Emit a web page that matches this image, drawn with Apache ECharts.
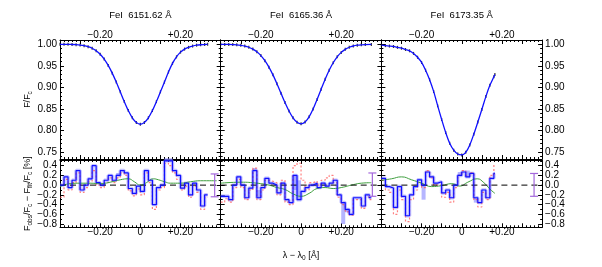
<!DOCTYPE html>
<html><head><meta charset="utf-8">
<script src="https://cdn.jsdelivr.net/npm/echarts@6/dist/echarts.min.js"></script>
<style>html,body{margin:0;padding:0;background:#fff}#c{width:602px;height:267px}</style>
</head><body><div id="c"></div><script>
// ---------------- data ----------------
const lineTitles = ['FeI  6151.62 Å', 'FeI  6165.36 Å', 'FeI  6173.35 Å'];

// upper panels: normalised line profiles F/Fc
const prof1X = [-0.40,-0.38,-0.36,-0.34,-0.32,-0.30,-0.28,-0.26,-0.24,-0.22,-0.20,-0.18,-0.16,-0.14,-0.12,-0.10,-0.08,-0.06,-0.04,-0.02,0.00,0.02,0.04,0.06,0.08,0.10,0.12,0.14,0.16,0.18,0.20,0.22,0.24,0.26,0.28,0.30,0.32,0.335];
const prof1Y = [1.000,1.000,1.000,0.9996,0.9991,0.9983,0.9969,0.9945,0.9908,0.9851,0.977,0.9658,0.9512,0.9333,0.9126,0.890,0.8674,0.8466,0.8298,0.8189,0.815,0.8189,0.8298,0.8466,0.8674,0.890,0.9126,0.936,0.956,0.971,0.982,0.989,0.993,0.996,0.998,0.999,0.9995,1.000];
const prof2X = [-0.40,-0.38,-0.36,-0.34,-0.32,-0.30,-0.28,-0.26,-0.24,-0.22,-0.20,-0.18,-0.16,-0.14,-0.12,-0.10,-0.08,-0.06,-0.04,-0.02,0.00,0.02,0.04,0.06,0.08,0.10,0.12,0.14,0.16,0.18,0.20,0.22,0.24,0.26,0.28,0.30,0.32,0.35];
const prof2Y = [1.000,0.9998,0.9997,0.9993,0.9988,0.9977,0.996,0.9932,0.9889,0.9826,0.9739,0.962,0.9472,0.9293,0.9088,0.887,0.8653,0.8456,0.8298,0.8195,0.816,0.8202,0.8321,0.8502,0.8724,0.8961,0.9192,0.940,0.9574,0.9711,0.9813,0.9884,0.9932,0.9961,0.9979,0.9989,0.9995,0.9997];
const prof3X = [-0.40,-0.38,-0.36,-0.34,-0.32,-0.30,-0.28,-0.26,-0.24,-0.22,-0.20,-0.18,-0.16,-0.14,-0.12,-0.10,-0.08,-0.06,-0.04,-0.02,0.00,0.02,0.04,0.06,0.08,0.10,0.12,0.14,0.16,0.165];
const prof3Y = [0.998,0.997,0.996,0.995,0.993,0.991,0.988,0.985,0.979,0.970,0.958,0.940,0.918,0.891,0.858,0.826,0.796,0.771,0.755,0.746,0.744,0.750,0.767,0.792,0.820,0.849,0.879,0.905,0.925,0.930];

// lower panels: residuals [%], step bins start at resX, last bin ends at resEnd
const res1X = [-0.40,-0.38,-0.36,-0.34,-0.32,-0.30,-0.28,-0.26,-0.24,-0.22,-0.20,-0.18,-0.16,-0.14,-0.12,-0.10,-0.08,-0.06,-0.04,-0.02,0.00,0.02,0.04,0.06,0.08,0.10,0.12,0.14,0.16,0.18,0.20,0.22,0.24,0.26,0.28,0.30,0.32];
const res1End = 0.335;
const res1Blue  = [0.0,0.17,-0.05,0.1,0.3,-0.1,0.0,0.13,0.4,0.05,0.0,0.1,0.2,0.1,0.2,0.3,0.25,-0.07,-0.17,-0.02,-0.13,0.3,0.1,-0.4,-0.05,0.0,0.5,0.5,0.3,0.2,-0.06,0.04,-0.2,0.04,-0.1,-0.43,-0.2];
const res1Light = [0.0,0.17,-0.05,0.1,0.3,-0.1,0.0,0.13,0.4,0.05,0.0,0.1,0.2,0.1,0.25,0.3,0.25,-0.07,-0.17,-0.02,-0.13,0.3,0.1,-0.4,-0.05,0.0,0.55,0.55,0.3,0.2,-0.06,0.04,-0.2,0.04,-0.1,-0.43,-0.2];
const res1Red   = [-0.25,0.12,-0.1,0.05,0.25,-0.15,-0.05,0.08,0.3,0.0,-0.05,0.05,0.15,0.05,0.15,0.25,0.2,-0.12,-0.22,-0.08,-0.2,0.25,0.05,-0.5,-0.1,-0.05,0.45,0.4,0.25,0.12,-0.1,-0.02,-0.25,-0.02,-0.15,-0.5,-0.25];
const fit1X = [-0.40,-0.35,-0.30,-0.25,-0.20,-0.15,-0.10,-0.06,-0.03,0.0,0.03,0.065,0.09,0.12,0.15,0.20,0.25,0.30,0.38];
const fit1Y = [-0.03,0.03,0.04,0.04,0.03,0.06,0.11,0.13,0.07,0.0,0.05,0.13,0.11,0.07,0.04,0.04,0.07,0.09,0.09];

const res2X = [-0.40,-0.38,-0.36,-0.34,-0.32,-0.30,-0.28,-0.26,-0.24,-0.22,-0.20,-0.18,-0.16,-0.14,-0.12,-0.10,-0.08,-0.06,-0.04,-0.02,0.00,0.02,0.04,0.06,0.08,0.10,0.12,0.14,0.16,0.18,0.20,0.22,0.24,0.26,0.28,0.30,0.32,0.34];
const res2End = 0.35;
const res2Blue  = [-0.23,-0.23,-0.3,0.0,0.17,0.0,-0.26,-0.06,0.3,-0.26,-0.05,0.14,0.04,0.0,-0.16,0.04,-0.3,-0.36,0.2,-0.3,-0.13,-0.05,0.0,0.04,-0.05,0.04,-0.02,0.04,0.1,-0.2,-0.36,-0.5,-0.6,-0.26,-0.26,-0.43,-0.2,-0.26];
const res2Light = [-0.2,-0.23,-0.3,0.0,0.17,0.0,-0.26,-0.06,0.35,-0.1,-0.05,0.14,0.04,0.0,-0.16,0.04,-0.3,-0.36,-0.1,0.1,-0.13,-0.05,0.0,0.04,-0.05,0.04,-0.02,0.04,0.1,-0.2,-0.8,-0.56,-0.6,-0.26,-0.26,-0.43,-0.2,-0.26];
const res2Red   = [-0.35,-0.28,-0.35,-0.05,0.12,-0.05,-0.3,-0.1,0.35,-0.3,-0.1,0.1,0.08,0.05,-0.2,0.1,-0.35,-0.4,0.4,0.45,0.1,-0.1,0.05,0.08,0.0,0.1,0.15,0.2,0.05,-0.25,-0.4,-0.55,-0.62,-0.3,-0.3,-0.48,-0.25,-0.3];
const fit2X = [-0.40,-0.30,-0.22,-0.16,-0.12,-0.08,-0.04,0.0,0.04,0.08,0.12,0.16,0.20,0.26,0.30,0.35];
const fit2Y = [0.04,0.06,0.04,0.0,-0.05,-0.09,-0.18,-0.23,-0.17,-0.07,-0.05,-0.07,-0.05,0.01,0.04,0.05];

const res3X = [-0.40,-0.38,-0.36,-0.34,-0.32,-0.30,-0.28,-0.26,-0.24,-0.22,-0.20,-0.18,-0.16,-0.14,-0.12,-0.10,-0.08,-0.06,-0.04,-0.02,0.00,0.02,0.04,0.06,0.08,0.10,0.12,0.14,0.16];
const res3End = 0.165;
const res3Blue  = [0.14,-0.03,-0.06,-0.46,-0.03,-0.23,-0.63,-0.2,-0.03,0.11,0.0,0.27,0.17,0.04,0.07,-0.16,-0.1,-0.26,0.0,0.2,0.27,0.17,0.24,-0.26,-0.36,-0.1,-0.26,0.14,0.24];
const res3Light = [0.14,-0.03,-0.06,-0.46,-0.03,-0.23,-0.63,-0.2,-0.03,0.11,-0.3,0.27,0.17,0.04,0.07,-0.16,-0.1,-0.26,0.0,0.27,0.27,0.3,0.24,-0.36,-0.36,-0.1,-0.26,0.14,0.24];
const res3Red   = [0.1,-0.1,-0.15,-0.6,-0.1,-0.3,-0.75,-0.3,-0.1,0.05,-0.05,0.3,0.15,0.0,0.0,-0.25,-0.15,-0.35,-0.05,0.2,0.3,0.2,0.25,-0.3,-0.45,-0.15,-0.3,0.2,0.42];
const fit3X = [-0.40,-0.35,-0.30,-0.25,-0.20,-0.15,-0.10,-0.05,-0.01,0.03,0.077,0.11,0.14,0.165];
const fit3Y = [0.1,0.13,0.17,0.11,0.04,-0.03,-0.01,0.03,-0.02,0.06,0.13,0.05,-0.08,-0.17];

// typical error bars (x, low, high)
const errBars = [[0.37,-0.24,0.23],[0.355,-0.23,0.25],[0.36,-0.23,0.24]];

// ticks / labels
const xMajorTicks = [-0.4,-0.3,-0.2,-0.1,0,0.1,0.2,0.3,0.4];
const xTopLabelVals = [-0.2,0.2];
const xBottomLabelVals = [-0.2,0,0.2];
const upperYTicks = [0.75,0.80,0.85,0.90,0.95,1.00];
const lowerYTicks = [-0.8,-0.6,-0.4,-0.2,0.0,0.2,0.4];
const lowerYLabelsA = [-0.8,-0.4,0.0,0.4];
const lowerYLabelsB = [-0.6,-0.2,0.2];

// ---------------- layout ----------------
const FONT = 'Liberation Sans, Arial, Helvetica, sans-serif';
const L = [60, 220.7, 381.4], W = 160.7;
const UT = 40, UH = 119, LT = 160, LH = 67.3;
const UYR = [0.7345, 1.0100], LYR = [-0.868, 0.517];
const BLUE = '#1010ff', RED = '#ff4a4a', GREEN = '#3f9f3f', PURPLE = '#a468dc';

function minorBetween(majors, step, lo, hi) {
  const out = [];
  const n = Math.round((hi - lo) / step);
  for (let k = 0; k <= n; k++) {
    const v = +(lo + k * step).toFixed(4);
    if (!majors.some(m => Math.abs(m - v) < 1e-6)) out.push(v);
  }
  return out;
}
const xMinorTicks = minorBetween(xMajorTicks, 0.02, -0.4, 0.4);
const upperYMinor = minorBetween(upperYTicks, 0.01, 0.74, 1.01);
const lowerYMinor = minorBetween(lowerYTicks, 0.1, -0.8, 0.5);

const fmtX = v => Math.abs(v) < 1e-9 ? '0' : (v < 0 ? '\u2212' : '+') + Math.abs(v).toFixed(2);
const fmtYU = v => v.toFixed(2);
const fmtYL = v => (v < -1e-9 ? '\u2212' : '') + Math.abs(v).toFixed(1);

const grids = [], xAxes = [], yAxes = [], series = [], titles = [];
const lbl = {fontSize: 10, color: '#000', fontFamily: FONT, showMinLabel: true, showMaxLabel: true, hideOverlap: false};
const tickStyle = {color: '#000', width: 1};

for (let g = 0; g < 6; g++) {
  const p = g % 3, upper = g < 3;
  grids.push({left: L[p], top: upper ? UT : LT, width: W, height: upper ? UH : LH, containLabel: false});
  const yr = upper ? UYR : LYR;
  const yMaj = upper ? upperYTicks : lowerYTicks;
  const yMin = upper ? upperYMinor : lowerYMinor;
  const fy = upper ? fmtYU : fmtYL;
  const mkX = (pos, major) => ({
    gridIndex: g, type: 'value', min: -0.4, max: 0.4, position: pos,
    splitLine: {show: false},
    axisLine: {show: major, onZero: false, lineStyle: {color: '#000', width: 1}},
    axisTick: {show: true, inside: true, length: major ? 4 : 2, customValues: major ? xMajorTicks : xMinorTicks, lineStyle: tickStyle},
    axisLabel: {show: major && ((pos === 'top') === upper), customValues: pos === 'top' ? xTopLabelVals : xBottomLabelVals,
      formatter: fmtX, margin: 0, ...lbl}
  });
  xAxes.push(mkX('bottom', true), mkX('bottom', false), mkX('top', true), mkX('top', false));
  const mkY = (pos, major) => {
    const side = (pos === 'left' && p === 0) || (pos === 'right' && p === 2);
    const labVals = upper ? (major ? upperYTicks : []) : (major ? lowerYLabelsA : lowerYLabelsB);
    return {
      gridIndex: g, type: 'value', min: yr[0], max: yr[1], position: pos,
      splitLine: {show: false},
      axisLine: {show: major, onZero: false, lineStyle: {color: '#000', width: 1}},
      axisTick: {show: true, inside: true, length: major ? 4 : 2, customValues: major ? yMaj : yMin, lineStyle: tickStyle},
      axisLabel: {show: side && labVals.length > 0, customValues: labVals, formatter: fy, margin: 3, ...lbl}
    };
  };
  yAxes.push(mkY('left', true), mkY('left', false), mkY('right', true), mkY('right', false));
}
// axis names
const nameStyle = {rich: {n: {fontSize: 9, lineHeight: 12, fontFamily: FONT, color: '#000'},
  s: {fontSize: 6.5, lineHeight: 12, verticalAlign: 'bottom', fontFamily: FONT, color: '#000'}}};
yAxes[0].name = '{n|F/F}{s|c}';
yAxes[0].nameLocation = 'middle'; yAxes[0].nameRotate = 90; yAxes[0].nameGap = 6;
yAxes[0].nameTextStyle = nameStyle;
yAxes[12].name = '{n|F}{s|obs}{n|/F}{s|c}{n| \u2212 F}{s|fit}{n|/F}{s|c}{n| [%]}';
yAxes[12].nameLocation = 'middle'; yAxes[12].nameRotate = 90; yAxes[12].nameGap = 6;
yAxes[12].nameTextStyle = nameStyle;
xAxes[16].name = '{n|\u03bb \u2212 \u03bb}{s|0}{n| [Å]}';
xAxes[16].nameLocation = 'middle'; xAxes[16].nameGap = 22;
xAxes[16].nameTextStyle = nameStyle;

// titles
for (let p = 0; p < 3; p++) {
  titles.push({text: lineTitles[p], left: L[p] + W / 2, top: 10, padding: 0, textAlign: 'center',
    textStyle: {fontSize: 9.5, fontWeight: 'normal', color: '#000', fontFamily: FONT}});
}

const profX = [prof1X, prof2X, prof3X], profY = [prof1Y, prof2Y, prof3Y];
const resX = [res1X, res2X, res3X], resEnd = [res1End, res2End, res3End];
const resBlue = [res1Blue, res2Blue, res3Blue], resLight = [res1Light, res2Light, res3Light], resRed = [res1Red, res2Red, res3Red];
const fitX = [fit1X, fit2X, fit3X], fitY = [fit1Y, fit2Y, fit3Y];

const pairs = (xs, ys) => xs.map((x, i) => [x, ys[i]]);
const stepData = (xs, ys, end) => { const d = pairs(xs, ys); d.push([end, ys[ys.length - 1]]); return d; };

for (let p = 0; p < 3; p++) {
  const gu = p, gl = p + 3;
  const ax = g => ({xAxisIndex: 4 * g, yAxisIndex: 4 * g});
  // upper
  series.push({type: 'scatter', ...ax(gu), data: pairs(profX[p], profY[p]), symbol: 'rect', symbolSize: [1.2, 3],
    itemStyle: {color: '#000'}, z: 2, silent: true});
  series.push({type: 'line', ...ax(gu), data: pairs(profX[p], profY[p]), showSymbol: false, smooth: 0.3,
    lineStyle: {color: BLUE, width: 1.3}, z: 3, silent: true});
  // lower
  const xs = resX[p];
  const band = xs.map((x, i) => [x, i + 1 < xs.length ? xs[i + 1] : resEnd[p], resBlue[p][i], resLight[p][i]]);
  series.push({type: 'custom', ...ax(gl), data: band, z: 1, silent: true,
    renderItem: (params, api) => {
      const p0 = api.coord([api.value(0), api.value(2)]);
      const p1 = api.coord([api.value(1), api.value(3)]);
      return {type: 'rect', shape: {x: p0[0], y: Math.min(p0[1], p1[1]), width: p1[0] - p0[0], height: Math.abs(p1[1] - p0[1])},
        style: {fill: 'rgba(120,120,255,0.55)'}};
    }});
  series.push({type: 'line', ...ax(gl), data: stepData(xs, resBlue[p], resEnd[p]), step: 'end', showSymbol: false,
    lineStyle: {color: 'rgba(120,120,255,0.45)', width: 3.5}, z: 2, silent: true});
  series.push({type: 'line', ...ax(gl), data: stepData(xs, resRed[p], resEnd[p]), step: 'end', showSymbol: false,
    lineStyle: {color: RED, width: 1.2, type: [2, 2], opacity: 0.7}, z: 3, silent: true});
  series.push({type: 'line', ...ax(gl), data: pairs(fitX[p], fitY[p]), smooth: true, showSymbol: false,
    lineStyle: {color: GREEN, width: 1}, z: 4, silent: true});
  series.push({type: 'line', ...ax(gl), data: [[-0.4, 0], [0.4, 0]], showSymbol: false,
    lineStyle: {color: '#000', width: 1, type: [6, 4]}, z: 5, silent: true});
  series.push({type: 'line', ...ax(gl), data: stepData(xs, resBlue[p], resEnd[p]), step: 'end', showSymbol: false,
    lineStyle: {color: BLUE, width: 1.2}, z: 6, silent: true});
  series.push({type: 'custom', ...ax(gl), data: [errBars[p]], z: 7, silent: true,
    renderItem: (params, api) => {
      const x = api.value(0);
      const a = api.coord([x, api.value(1)]), b = api.coord([x, api.value(2)]);
      const c = 4, st = {stroke: PURPLE, lineWidth: 1.2};
      return {type: 'group', children: [
        {type: 'line', shape: {x1: a[0], y1: a[1], x2: b[0], y2: b[1]}, style: st},
        {type: 'line', shape: {x1: a[0] - c, y1: a[1], x2: a[0] + c, y2: a[1]}, style: st},
        {type: 'line', shape: {x1: b[0] - c, y1: b[1], x2: b[0] + c, y2: b[1]}, style: st}]};
    }});
}

const chart = echarts.init(document.getElementById('c'), null, {renderer: 'canvas'});
chart.setOption({
  animation: false,
  backgroundColor: '#fff',
  textStyle: {fontFamily: FONT},
  title: titles,
  grid: grids, xAxis: xAxes, yAxis: yAxes, series: series
});
</script></body></html>
